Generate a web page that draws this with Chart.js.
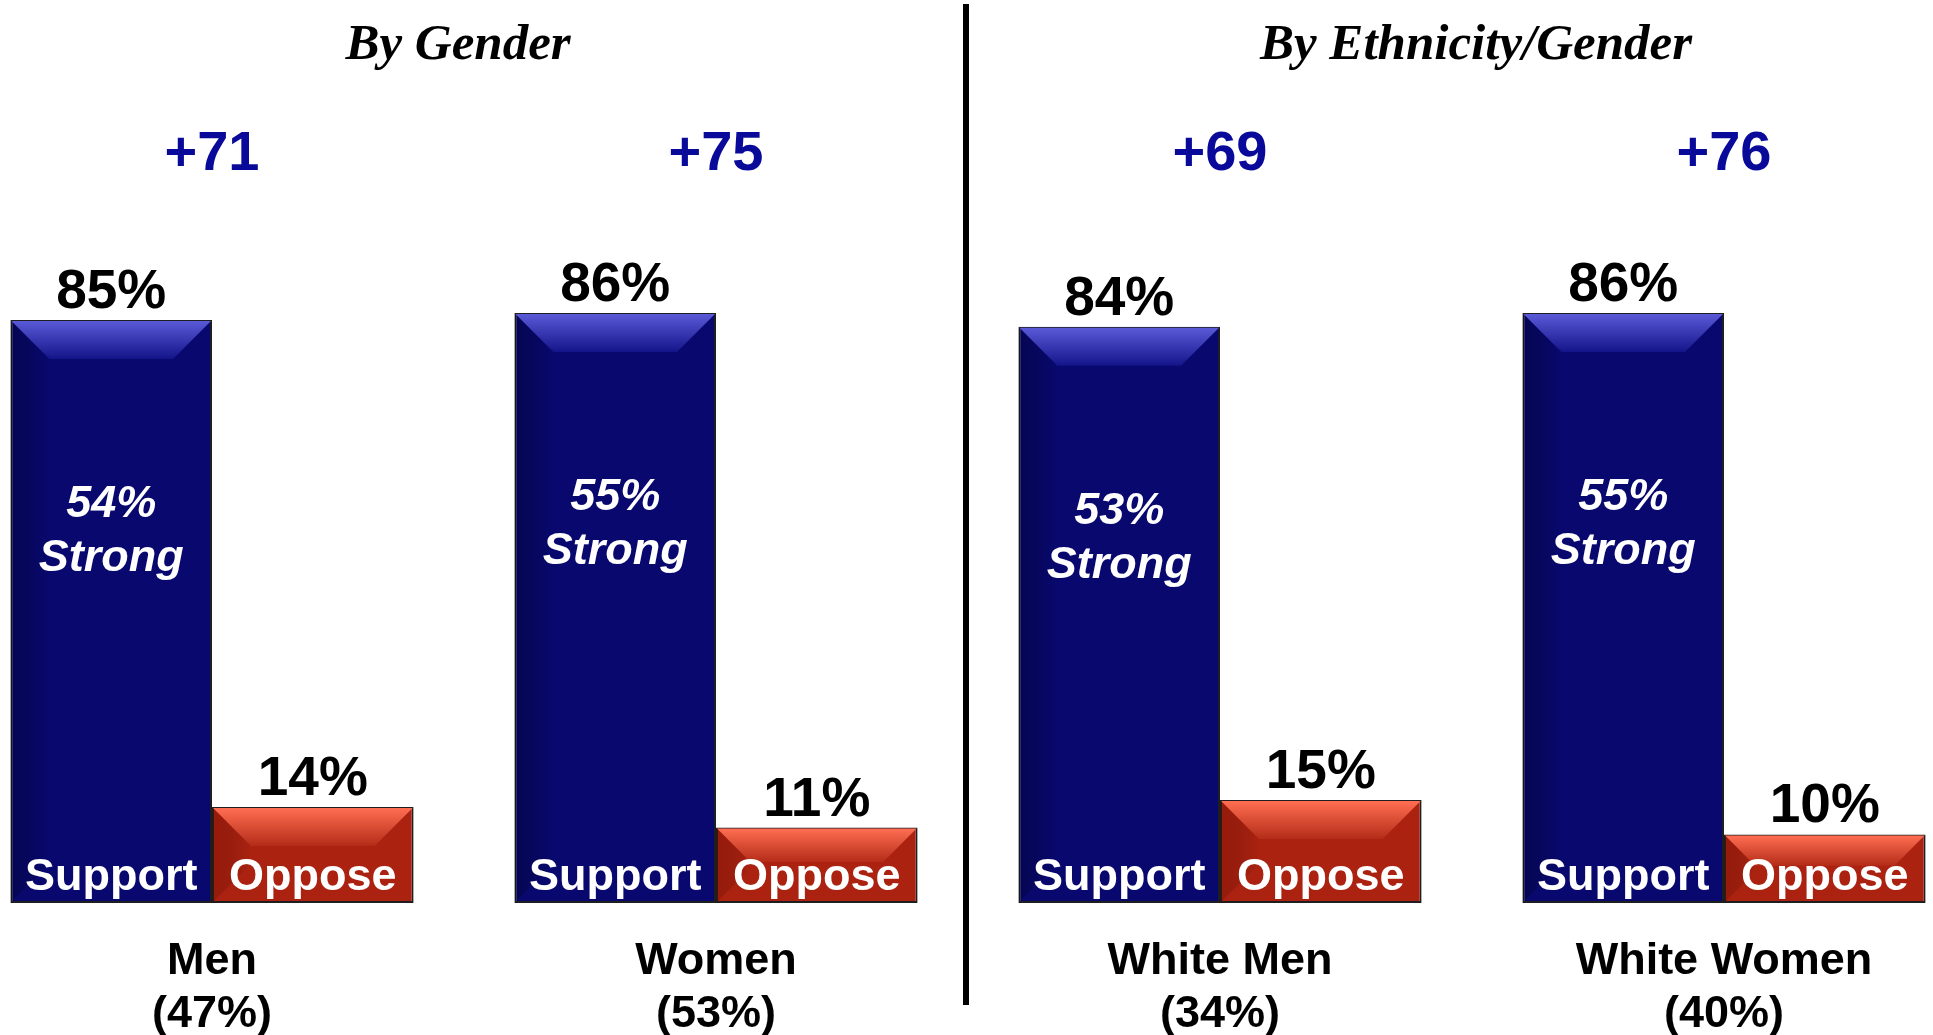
<!DOCTYPE html>
<html>
<head>
<meta charset="utf-8">
<script src="https://cdn.jsdelivr.net/npm/chart.js@4/dist/chart.umd.min.js"></script>
<style>
  html, body { margin: 0; padding: 0; background: #fff; overflow: hidden; }
  body { width: 1933px; height: 1035px; position: relative; }
  #chart { position: absolute; left: -40px; top: 0; }
</style>
</head>
<body>
<canvas id="chart" width="2016" height="1035"></canvas>
<script>
// values
const categories = ['Men', 'Women', 'White Men', 'White Women'];
const shares = ['(47%)', '(53%)', '(34%)', '(40%)'];
const seriesNames = ['Support', 'Oppose'];
const support = [85, 86, 84, 86];
const oppose = [14, 11, 15, 10];
const strong = [54, 55, 53, 55];
const net = [71, 75, 69, 76];
const sections = ['By Gender', 'By Ethnicity/Gender'];

const NAVY = '#08086f';
const RED = '#ab2210';

// draws the shiny bevel on top of every bar
function bevel(ctx, l, t, r, b, light, edge, dark) {
    const s = Math.min(38, (b - t) / 2.2);
    let g = ctx.createLinearGradient(0, t, 0, t + s);
    g.addColorStop(0, light);
    g.addColorStop(1, edge);
    ctx.fillStyle = g;
    ctx.beginPath();
    ctx.moveTo(l, t); ctx.lineTo(r, t); ctx.lineTo(r - s, t + s); ctx.lineTo(l + s, t + s);
    ctx.closePath();
    ctx.fill();

    g = ctx.createLinearGradient(l, 0, l + s, 0);
    g.addColorStop(0, dark);
    g.addColorStop(1, 'rgba(0,0,0,0)');
    ctx.fillStyle = g;
    ctx.beginPath();
    ctx.moveTo(l, t); ctx.lineTo(l + s, t + s); ctx.lineTo(l + s, b - s); ctx.lineTo(l, b);
    ctx.closePath();
    ctx.fill();
}

const bevelPlugin = {
    id: 'bevel',
    afterDatasetsDraw(chart) {
        const ctx = chart.ctx;
        ctx.save();
        chart.data.datasets.forEach((ds, i) => {
            chart.getDatasetMeta(i).data.forEach(bar => {
                const l = bar.x - bar.width / 2 + 1, r = bar.x + bar.width / 2 - 1;
                const t = bar.y + 1, b = bar.base - 1;
                if (i === 0) bevel(ctx, l, t, r, b, '#5a5ad8', '#14148a', 'rgba(0,0,40,0.35)');
                else bevel(ctx, l, t, r, b, '#ff6e52', '#b42c18', 'rgba(110,10,0,0.3)');
            });
        });
        ctx.restore();
    }
};

const labelPlugin = {
    id: 'labels',
    afterDraw(chart) {
        const ctx = chart.ctx;
        const x = chart.scales.x;
        const y = chart.scales.y;
        const sup = chart.getDatasetMeta(0).data;
        const opp = chart.getDatasetMeta(1).data;
        ctx.save();
        ctx.textAlign = 'center';
        ctx.textBaseline = 'alphabetic';

        // section titles
        ctx.fillStyle = '#000';
        ctx.font = 'italic bold 51px "Liberation Serif", "Times New Roman", serif';
        ctx.fillText(sections[0], (x.getPixelForValue(0) + x.getPixelForValue(1)) / 2 - 6, 59);
        ctx.fillText(sections[1], (x.getPixelForValue(2) + x.getPixelForValue(3)) / 2 + 4, 59);

        // divider between the two sections
        const mid = (x.getPixelForValue(1) + x.getPixelForValue(2)) / 2 - 2;
        ctx.fillRect(mid - 3, 4, 6, 1001);

        categories.forEach((c, i) => {
            const cx = x.getPixelForValue(i);

            // net margin
            ctx.fillStyle = '#0a0a9a';
            ctx.font = 'bold 56px "Liberation Sans", Arial, sans-serif';
            ctx.fillText('+' + net[i], cx, 170);

            // values above bars
            ctx.fillStyle = '#000';
            ctx.font = 'bold 55px "Liberation Sans", Arial, sans-serif';
            ctx.fillText(support[i] + '%', sup[i].x, sup[i].y - 12);
            ctx.fillText(oppose[i] + '%', opp[i].x, opp[i].y - 12);

            // strong support inside the bar
            ctx.fillStyle = '#fff';
            ctx.font = 'italic bold 45px "Liberation Sans", Arial, sans-serif';
            const sy = y.getPixelForValue(strong[i] + 1);
            ctx.fillText(strong[i] + '%', sup[i].x, sy - 9);
            ctx.fillText('Strong', sup[i].x, sy + 45);

            // series names at the bar bottoms
            ctx.font = 'bold 45px "Liberation Sans", Arial, sans-serif';
            ctx.fillText(seriesNames[0], sup[i].x, sup[i].base - 13);
            ctx.fillText(seriesNames[1], opp[i].x, opp[i].base - 13);

            // category labels
            ctx.fillStyle = '#000';
            ctx.fillText(c, cx, 974);
            ctx.fillText(shares[i], cx, 1027);
        });
        ctx.restore();
    }
};

new Chart(document.getElementById('chart'), {
    type: 'bar',
    data: {
        labels: categories,
        datasets: [
            { label: seriesNames[0], data: support, backgroundColor: NAVY },
            { label: seriesNames[1], data: oppose, backgroundColor: RED }
        ]
    },
    options: {
        responsive: false,
        devicePixelRatio: 1,
        animation: false,
        layout: { padding: { top: 217, bottom: 132, left: 0, right: 0 } },
        datasets: {
            bar: {
                categoryPercentage: 0.8,
                barPercentage: 1,
                borderWidth: 2,
                borderColor: '#1e1e1e',
                borderSkipped: false
            }
        },
        scales: {
            x: { display: false },
            y: { display: false, min: 0, max: 100 }
        },
        plugins: {
            legend: { display: false },
            tooltip: { enabled: false }
        }
    },
    plugins: [bevelPlugin, labelPlugin]
});
</script>
</body>
</html>
